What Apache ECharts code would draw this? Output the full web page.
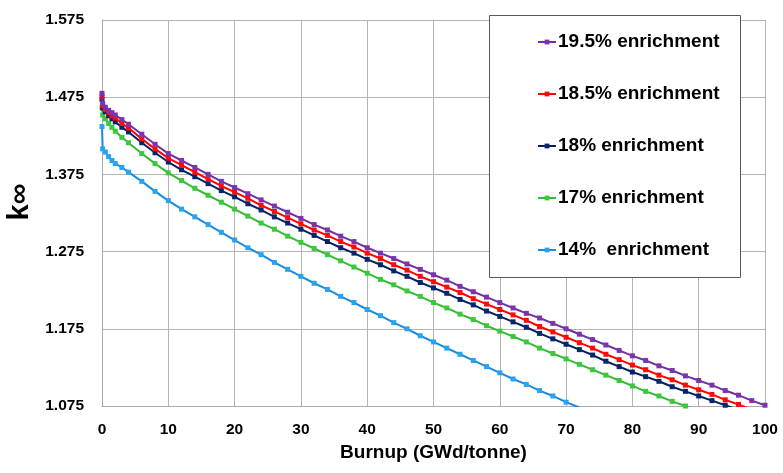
<!DOCTYPE html>
<html>
<head>
<meta charset="utf-8">
<script src="https://cdn.jsdelivr.net/npm/echarts@6/dist/echarts.min.js"></script>
<style>
html,body{margin:0;padding:0;background:#fff;}
#chart{width:783px;height:473px;}
</style>
</head>
<body>
<div id="chart"></div>
<script>
// Burnup steps (GWd/tonne)
var burnup = [0, 0.1, 0.5, 1, 1.5, 2, 3, 4,
  6, 8, 10, 12, 14, 16, 18, 20, 22, 24, 26, 28, 30, 32, 34, 36, 38, 40,
  42, 44, 46, 48, 50, 52, 54, 56, 58, 60, 62, 64, 66, 68, 70, 72, 74, 76, 78, 80,
  82, 84, 86, 88, 90, 92, 94, 96, 98, 100];

var seriesNames = ["19.5% enrichment", "18.5% enrichment", "18% enrichment", "17% enrichment", "14%  enrichment"];

var k195 = [1.480, 1.467, 1.462, 1.458, 1.455, 1.452, 1.446, 1.440,
  1.427, 1.414, 1.402, 1.393, 1.384, 1.375, 1.366, 1.358, 1.350, 1.342, 1.334, 1.326, 1.318,
  1.310, 1.303, 1.295, 1.288, 1.280, 1.273, 1.266, 1.259, 1.252, 1.245, 1.238, 1.230, 1.223,
  1.216, 1.209, 1.202, 1.195, 1.189, 1.182, 1.175, 1.168, 1.161, 1.154, 1.147, 1.140, 1.134,
  1.127, 1.121, 1.114, 1.108, 1.102, 1.095, 1.089, 1.082, 1.076];

var k185 = [1.476, 1.464, 1.459, 1.455, 1.451, 1.448, 1.441, 1.435,
  1.421, 1.408, 1.396, 1.387, 1.378, 1.369, 1.360, 1.352, 1.344, 1.335, 1.327, 1.319, 1.311,
  1.303, 1.296, 1.288, 1.281, 1.273, 1.266, 1.258, 1.251, 1.243, 1.236, 1.229, 1.222, 1.214,
  1.207, 1.200, 1.193, 1.186, 1.178, 1.171, 1.164, 1.157, 1.150, 1.142, 1.135, 1.128, 1.122,
  1.115, 1.109, 1.102, 1.096, 1.090, 1.083, 1.077, 1.070];

var k18 = [1.472, 1.461, 1.456, 1.451, 1.447, 1.443, 1.436, 1.430,
  1.416, 1.403, 1.391, 1.381, 1.372, 1.363, 1.354, 1.346, 1.337, 1.329, 1.320, 1.312, 1.304,
  1.296, 1.288, 1.280, 1.273, 1.265, 1.258, 1.250, 1.243, 1.235, 1.228, 1.221, 1.213, 1.206,
  1.198, 1.191, 1.184, 1.177, 1.169, 1.162, 1.155, 1.148, 1.141, 1.133, 1.126, 1.119, 1.113,
  1.107, 1.100, 1.094, 1.088, 1.082, 1.076, 1.070];

var k17 = [1.462, 1.452, 1.447, 1.441, 1.436, 1.431, 1.423, 1.416,
  1.402, 1.389, 1.377, 1.367, 1.357, 1.348, 1.339, 1.330, 1.321, 1.312, 1.304, 1.295, 1.287,
  1.279, 1.271, 1.263, 1.255, 1.247, 1.239, 1.232, 1.224, 1.217, 1.209, 1.202, 1.194, 1.187,
  1.179, 1.172, 1.165, 1.158, 1.150, 1.143, 1.136, 1.129, 1.122, 1.115, 1.108, 1.101, 1.094,
  1.088, 1.081, 1.075, 1.068];

var k14 = [1.437, 1.408, 1.404, 1.398, 1.393, 1.389, 1.384, 1.378,
  1.366, 1.353, 1.341, 1.330, 1.320, 1.310, 1.300, 1.290, 1.280, 1.271, 1.261, 1.252, 1.243,
  1.234, 1.226, 1.217, 1.209, 1.200, 1.192, 1.183, 1.175, 1.166, 1.158, 1.150, 1.142, 1.134,
  1.126, 1.118, 1.110, 1.103, 1.095, 1.088, 1.080, 1.073];

var seriesValues = [k195, k185, k18, k17, k14];
var lineColors = ["#7030A0", "#FF0000", "#002060", "#33BB33", "#1C8AD9"];
var markColors = ["#7A35AE", "#FF0A0A", "#06266B", "#3CC83C", "#27A3EF"];

var FONT = "Liberation Sans";

function pairs(vals) {
  return vals.map(function (v, i) { return [burnup[i], v]; });
}

var series = seriesValues.map(function (vals, i) {
  return {
    name: seriesNames[i],
    type: "line",
    data: pairs(vals),
    symbol: "rect",
    symbolSize: 5,
    showAllSymbol: true,
    clip: true,
    lineStyle: { color: lineColors[i], width: 2 },
    itemStyle: { color: markColors[i] },
    emphasis: { disabled: true },
    z: 5 - i + 2
  };
});

var chart = echarts.init(document.getElementById("chart"), null, { renderer: "canvas" });
chart.setOption({
  animation: false,
  backgroundColor: "#ffffff",
  grid: { left: 102, right: 18, top: 20, bottom: 67, containLabel: false, outerBoundsMode: "none" },
  xAxis: {
    type: "value",
    min: 0, max: 100, interval: 10,
    name: "Burnup (GWd/tonne)",
    nameLocation: "middle",
    nameGap: 31,
    nameTextStyle: { fontFamily: FONT, fontWeight: "bold", fontSize: 19, color: "#000" },
    axisLine: { show: true, lineStyle: { color: "#aaaaaa", width: 1 } },
    axisTick: { show: false },
    axisLabel: { fontFamily: FONT, fontWeight: "bold", fontSize: 15.5, color: "#000", margin: 16 },
    splitLine: { show: true, lineStyle: { color: "#b4b4b4", width: 1 } }
  },
  yAxis: {
    type: "value",
    min: 1.075, max: 1.575, interval: 0.1,
    name: "k∞",
    nameLocation: "middle",
    nameRotate: 90,
    nameGap: 66,
    nameTextStyle: { fontFamily: FONT, fontWeight: "bold", fontSize: 29, color: "#000", padding: [0, 0, 0, 22] },
    axisLine: { show: true, lineStyle: { color: "#aaaaaa", width: 1 } },
    axisTick: { show: false },
    axisLabel: {
      fontFamily: FONT, fontWeight: "bold", fontSize: 15.5, color: "#000", margin: 18,
      formatter: function (v) { return v.toFixed(3); }
    },
    splitLine: { show: true, lineStyle: { color: "#b4b4b4", width: 1 } }
  },
  graphic: [{
    type: "rect",
    z: 50,
    shape: { x: 489.5, y: 15.5, width: 251, height: 262 },
    style: { fill: "#ffffff", stroke: "#595959", lineWidth: 1 }
  }],
  legend: {
    orient: "vertical",
    left: 537,
    top: 31,
    z: 60,
    itemGap: 30,
    itemWidth: 18,
    itemHeight: 6,
    padding: 0,
    data: seriesNames,
    textStyle: { fontFamily: FONT, fontWeight: "bold", fontSize: 19, color: "#000", lineHeight: 22, padding: [0, 0, 0, -3] }
  },
  series: series
});
</script>
</body>
</html>
